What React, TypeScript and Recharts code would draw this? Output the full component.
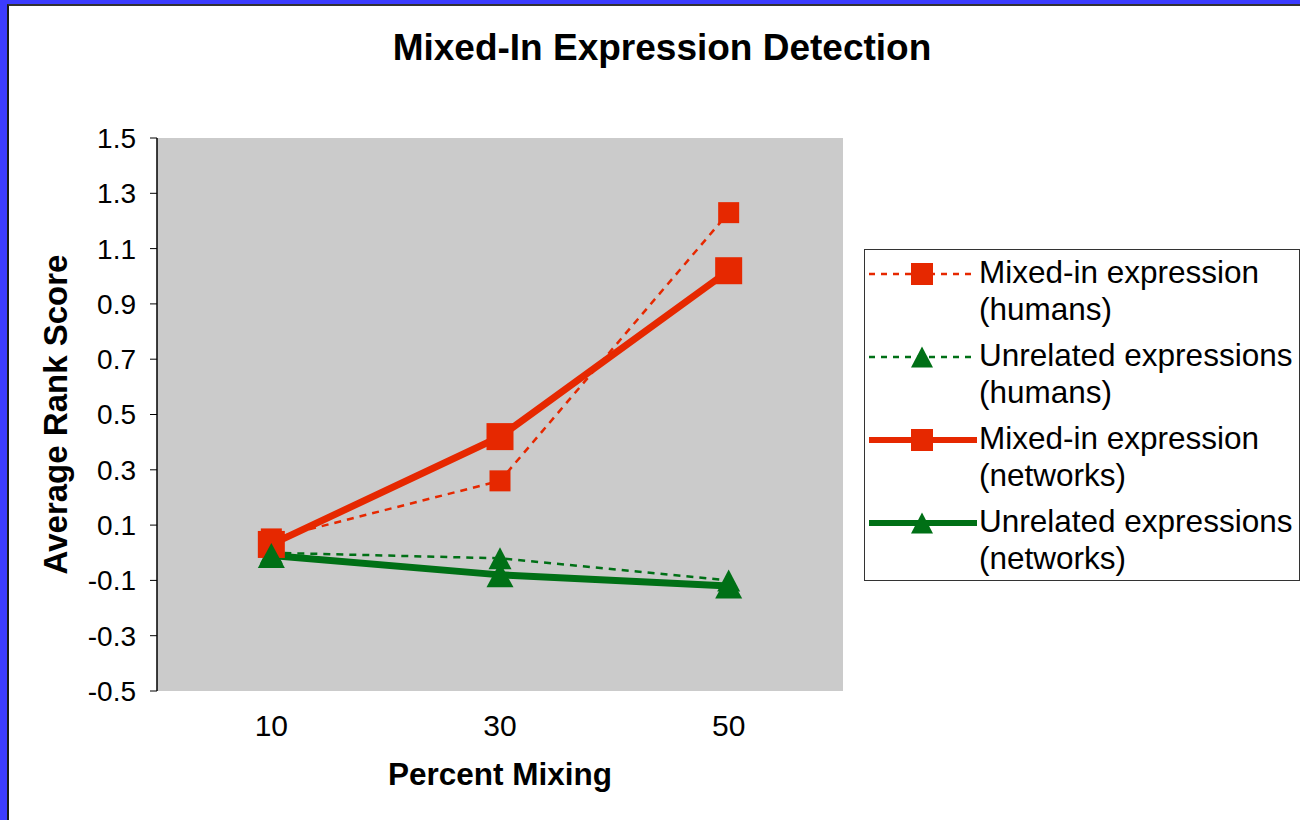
import React from "react";
import {
  LineChart,
  Line,
  XAxis,
  YAxis,
  CartesianGrid,
  Legend,
} from "recharts";

// values
const percents = [10, 30, 50];
const humansMixedIn = [0.05, 0.26, 1.23];
const humansUnrelated = [0.0, -0.02, -0.1];
const networksMixedIn = [0.03, 0.42, 1.02];
const networksUnrelated = [-0.01, -0.08, -0.12];

const yTicks = [-0.5, -0.3, -0.1, 0.1, 0.3, 0.5, 0.7, 0.9, 1.1, 1.3, 1.5];
const xLabelTicks = [10, 30, 50];
const xMarkTicks = [0, 20, 40, 60];

const RED = "#E62800";
const GREEN = "#007016";
const FONT = '"Liberation Sans", Arial, Helvetica, sans-serif';

const series = [
  { key: "humansMixedIn", name: "Mixed-in expression (humans)", color: RED, dashed: true, shape: "square" },
  { key: "humansUnrelated", name: "Unrelated expressions (humans)", color: GREEN, dashed: true, shape: "triangle" },
  { key: "networksMixedIn", name: "Mixed-in expression (networks)", color: RED, dashed: false, shape: "square" },
  { key: "networksUnrelated", name: "Unrelated expressions (networks)", color: GREEN, dashed: false, shape: "triangle" },
];

const data = percents.map((pct, i) => ({
  pct,
  humansMixedIn: humansMixedIn[i],
  humansUnrelated: humansUnrelated[i],
  networksMixedIn: networksMixedIn[i],
  networksUnrelated: networksUnrelated[i],
}));

function markerSize(shape: string, dashed: boolean) {
  if (shape === "square") return dashed ? { w: 21, h: 21 } : { w: 27, h: 27 };
  return dashed ? { w: 23, h: 22 } : { w: 27, h: 25 };
}

function Marker({ cx, cy, shape, w, h, color }: any) {
  if (cx == null || cy == null) return null;
  if (shape === "square") {
    return <rect x={cx - w / 2} y={cy - h / 2} width={w} height={h} fill={color} />;
  }
  const pts = `${cx},${cy - h / 2} ${cx + w / 2},${cy + h / 2} ${cx - w / 2},${cy + h / 2}`;
  return <polygon points={pts} fill={color} />;
}

function LegendBox({ payload }: any) {
  const items = series.filter((s) => (payload || []).some((p: any) => p.dataKey === s.key));
  return (
    <div
      style={{
        width: 436,
        height: 332,
        border: "1.5px solid #333",
        background: "#fff",
        boxSizing: "border-box",
        paddingTop: 4,
        fontFamily: FONT,
        fontSize: 31.5,
        lineHeight: "37px",
        color: "#000",
      }}
    >
      {items.map((s) => {
        const [line1, rest] = s.name.split(" (");
        return (
          <div key={s.key} style={{ display: "flex", height: 83, alignItems: "flex-start" }}>
            <svg width={114} height={40} style={{ flex: "none" }}>
              <line
                x1={4}
                x2={112}
                y1={20}
                y2={20}
                stroke={s.color}
                strokeWidth={s.dashed ? 2.5 : 6}
                strokeDasharray={s.dashed ? "6 6" : undefined}
              />
              <Marker cx={57} cy={20} shape={s.shape} w={22} h={s.shape === "square" ? 22 : 21} color={s.color} />
            </svg>
            <div style={{ whiteSpace: "nowrap" }}>
              <div>{line1}</div>
              <div>({rest}</div>
            </div>
          </div>
        );
      })}
    </div>
  );
}

export default function App() {
  return (
    <div style={{ position: "relative", width: 1300, height: 820, background: "#3C3CFF", overflow: "hidden" }}>
      <style>{"body{margin:0}"}</style>
      <div
        style={{
          position: "absolute",
          left: 7,
          top: 4,
          right: 0,
          bottom: 0,
          background: "#fff",
          borderLeft: "2px solid #1a1a1a",
          borderTop: "2px solid #333",
        }}
      />
      <div
        style={{
          position: "absolute",
          left: 312,
          top: 28,
          width: 700,
          textAlign: "center",
          fontFamily: FONT,
          fontWeight: "bold",
          fontSize: 37,
          lineHeight: "40px",
          color: "#000",
        }}
      >
        Mixed-In Expression Detection
      </div>
      <div style={{ position: "absolute", left: 0, top: 0 }}>
        <LineChart
          width={1300}
          height={820}
          data={data}
          margin={{ top: 138, right: 457, left: 47, bottom: 35 }}
          style={{ fontFamily: FONT }}
        >
          <CartesianGrid fill="#CBCBCB" horizontal={false} vertical={false} xAxisId="main" />
          <XAxis
            xAxisId="marks"
            dataKey="pct"
            type="number"
            domain={[0, 60]}
            ticks={xMarkTicks}
            interval={0}
            tick={false}
            tickSize={7}
            height={0}
            axisLine={{ stroke: "#000", strokeWidth: 1.5 }}
            tickLine={{ stroke: "#000" }}
          />
          <XAxis
            xAxisId="main"
            dataKey="pct"
            type="number"
            domain={[0, 60]}
            ticks={xLabelTicks}
            interval={0}
            axisLine={false}
            tickLine={false}
            tickSize={6}
            tickMargin={18}
            height={94}
            tick={{ fill: "#000", fontSize: 30 }}
            label={{
              value: "Percent Mixing",
              position: "insideBottom",
              offset: 0,
              style: { fontSize: 31.5, fontWeight: "bold", fill: "#000" },
            }}
          />
          <XAxis
            xAxisId="top"
            orientation="top"
            type="number"
            domain={[0, 60]}
            tick={false}
            tickLine={false}
            height={0}
            axisLine={{ stroke: "#808080", strokeWidth: 1.5 }}
          />
          <YAxis
            yAxisId="left"
            type="number"
            domain={[-0.5, 1.5]}
            ticks={yTicks}
            interval={0}
            width={110}
            tickSize={7}
            tickMargin={14}
            tickFormatter={(v: number) => v.toFixed(1)}
            tick={{ fill: "#000", fontSize: 28 }}
            axisLine={{ stroke: "#000", strokeWidth: 1.5 }}
            tickLine={{ stroke: "#000" }}
            label={{
              value: "Average Rank Score",
              angle: -90,
              position: "insideLeft",
              offset: 8,
              style: { fontSize: 33, fontWeight: "bold", fill: "#000", textAnchor: "middle" },
            }}
          />
          <YAxis
            yAxisId="right"
            orientation="right"
            type="number"
            domain={[-0.5, 1.5]}
            width={0}
            tick={false}
            tickLine={false}
            axisLine={{ stroke: "#808080", strokeWidth: 1.5 }}
          />
          <Legend
            layout="vertical"
            align="center"
            verticalAlign="middle"
            wrapperStyle={{ left: 864, top: 249, width: 436 }}
            content={(props: any) => <LegendBox payload={props.payload} />}
          />
          {series.map((s) => {
            const sz = markerSize(s.shape, s.dashed);
            return (
              <Line
                key={s.key}
                xAxisId="main"
                yAxisId="left"
                type="linear"
                dataKey={s.key}
                name={s.name}
                stroke={s.color}
                strokeWidth={s.dashed ? 2.5 : 7}
                strokeDasharray={s.dashed ? "7 6" : undefined}
                isAnimationActive={false}
                activeDot={false}
                dot={(p: any) => (
                  <Marker
                    key={`${s.key}-${p.index}`}
                    cx={p.cx}
                    cy={p.cy}
                    shape={s.shape}
                    w={sz.w}
                    h={sz.h}
                    color={s.color}
                  />
                )}
              />
            );
          })}
        </LineChart>
      </div>
    </div>
  );
}
